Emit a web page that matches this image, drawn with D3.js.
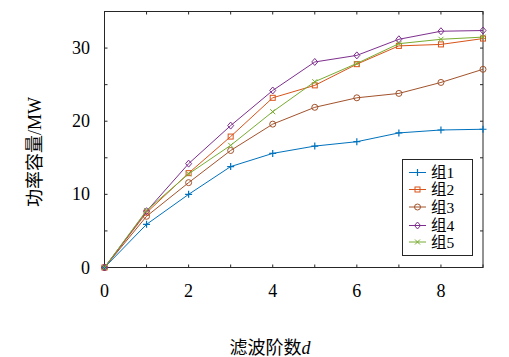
<!DOCTYPE html>
<html><head><meta charset="utf-8">
<script src="https://cdn.jsdelivr.net/npm/d3@7"></script>
<style>
html,body{margin:0;padding:0;background:#fff;}
text{font-family:"Liberation Serif","Noto Sans CJK SC",serif;fill:#000;}
</style></head>
<body>
<svg id="c" width="509" height="357"></svg>
<script>
const xs = [0,1,2,3,4,5,6,7,8,9];
const names = ["组1","组2","组3","组4","组5"];
const g1 = [0,5.9,10.0,13.8,15.6,16.6,17.2,18.4,18.8,18.9];
const g2 = [0,7.5,12.9,17.9,23.2,24.9,27.8,30.3,30.5,31.3];
const g3 = [0,7.0,11.6,16.0,19.6,21.9,23.2,23.8,25.3,27.1];
const g4 = [0,7.7,14.2,19.4,24.2,28.1,29.0,31.2,32.3,32.4];
const g5 = [0,7.8,12.8,16.7,21.3,25.4,27.9,30.6,31.2,31.5];
const colors = ["#0072BD","#D95319","#A2522B","#7E2F8E","#77AC30"];
const markers = ["plus","square","circle","diamond","x"];
const xTicks = [0,2,4,6,8];
const yTicks = [0,10,20,30];
const series = [g1,g2,g3,g4,g5];

const svg = d3.select("#c");
const L=104.5, R=483, T=11.5, B=267.5;
const x = d3.scaleLinear().domain([0,9]).range([L,R]);
const y = d3.scaleLinear().domain([0,35]).range([B,T]);

svg.append("rect").attr("x",L).attr("y",T).attr("width",R-L).attr("height",B-T)
  .attr("fill","none").attr("stroke","#262626").attr("stroke-width",1);

const tl=3;
d3.range(0,10,1).forEach(v=>{
  svg.append("line").attr("x1",x(v)).attr("x2",x(v)).attr("y1",B).attr("y2",B-tl).attr("stroke","#262626");
  svg.append("line").attr("x1",x(v)).attr("x2",x(v)).attr("y1",T).attr("y2",T+tl).attr("stroke","#262626");
});
d3.range(0,36,5).forEach(v=>{
  svg.append("line").attr("x1",L).attr("x2",L+tl).attr("y1",y(v)).attr("y2",y(v)).attr("stroke","#262626");
  svg.append("line").attr("x1",R).attr("x2",R-tl).attr("y1",y(v)).attr("y2",y(v)).attr("stroke","#262626");
});
xTicks.forEach(v=>svg.append("text").attr("x",x(v)).attr("y",297).attr("text-anchor","middle")
  .attr("font-size",18).text(v));
yTicks.forEach(v=>svg.append("text").attr("x",90).attr("y",y(v)+6).attr("text-anchor","end")
  .attr("font-size",18).text(v));

svg.append("text").attr("transform","translate(41,152) rotate(-90)").attr("text-anchor","middle")
  .attr("font-size",18).text("功率容量/MW");
const xl = svg.append("text").attr("x",270).attr("y",354).attr("text-anchor","middle").attr("font-size",18);
xl.append("tspan").text("滤波阶数");
xl.append("tspan").attr("font-style","italic").text("d");

function marker(g, type, cx, cy, color){
  const s=3;
  if(type==="plus"){
    g.append("path").attr("d",`M${cx-s-0.5},${cy}H${cx+s+0.5}M${cx},${cy-s-0.5}V${cy+s+0.5}`).attr("stroke",color).attr("stroke-width",1.2).attr("fill","none");
  } else if(type==="square"){
    g.append("rect").attr("x",cx-2.5).attr("y",cy-2.5).attr("width",5).attr("height",5).attr("stroke",color).attr("fill","none");
  } else if(type==="circle"){
    g.append("circle").attr("cx",cx).attr("cy",cy).attr("r",3).attr("stroke",color).attr("fill","none");
  } else if(type==="diamond"){
    g.append("path").attr("d",`M${cx},${cy-3.5}L${cx+3},${cy}L${cx},${cy+3.5}L${cx-3},${cy}Z`).attr("stroke",color).attr("fill","none");
  } else {
    g.append("path").attr("d",`M${cx-2.5},${cy-2.5}L${cx+2.5},${cy+2.5}M${cx-2.5},${cy+2.5}L${cx+2.5},${cy-2.5}`).attr("stroke",color).attr("fill","none");
  }
}

const line = d3.line().x((d,i)=>x(xs[i])).y(d=>y(d));
series.forEach((s,k)=>{
  const g = svg.append("g");
  g.append("path").attr("d",line(s)).attr("fill","none").attr("stroke",colors[k]).attr("stroke-width",1);
  s.forEach((v,i)=>marker(g,markers[k],x(xs[i]),y(v),colors[k]));
});

const lg = svg.append("g");
lg.append("rect").attr("x",402.5).attr("y",159.5).attr("width",70).attr("height",96)
  .attr("fill","#fff").attr("stroke","#262626");
const ly=[172.5,189.5,207,225.5,242];
names.forEach((n,k)=>{
  lg.append("line").attr("x1",409).attr("x2",426).attr("y1",ly[k]).attr("y2",ly[k]).attr("stroke",colors[k]);
  marker(lg,markers[k],417.5,ly[k],colors[k]);
  lg.append("text").attr("x",431).attr("y",ly[k]+5.5).attr("font-size",15.5).text(n);
});
</script>
</body></html>
